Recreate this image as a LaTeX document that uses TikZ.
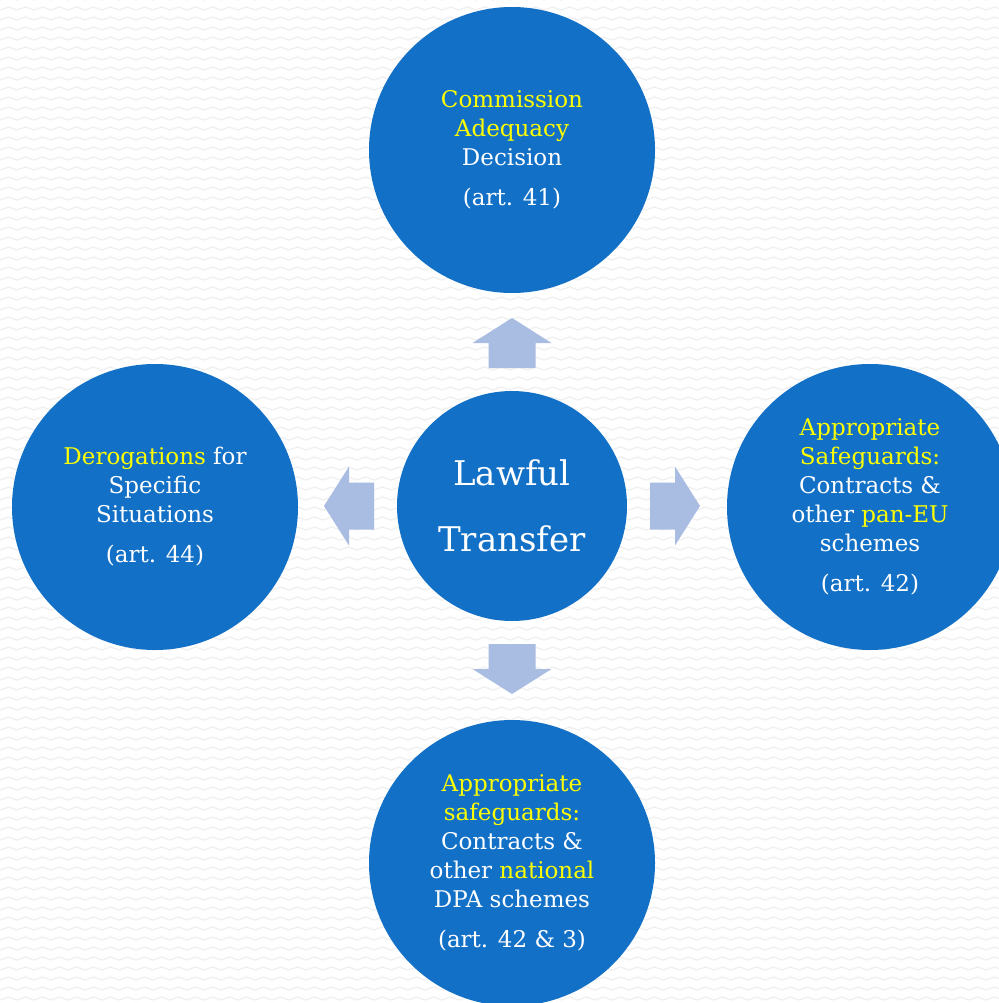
\documentclass[tikz,border=0pt]{standalone}
\usepackage{xcolor}
\usepackage{fontspec}
\setmainfont{DejaVu Serif}
\usetikzlibrary{calc}
\definecolor{bubblebg}{HTML}{1270C6}
\definecolor{arrowfill}{HTML}{A9BCE2}
\definecolor{hilite}{HTML}{FFFF00}
\definecolor{wave}{HTML}{F0F0F0}
\tikzset{
  bubble/.style={circle, fill=bubblebg, text=white, inner sep=0pt, minimum size=286pt, align=center, font=\fontsize{23}{29}\selectfont},
  hub/.style={circle, fill=bubblebg, text=white, inner sep=0pt, minimum size=230pt, align=center, font=\fontsize{34}{66}\selectfont},
  blk/.style={fill=arrowfill, draw=none},
  bgwave/.style={draw=wave, line width=1.3pt, line join=round},
}
\newcommand{\yel}[1]{\textcolor{hilite}{#1}}

\begin{document}
\begin{tikzpicture}[x=1pt,y=1pt]
  \useasboundingbox (0,0) rectangle (998,-1003);
  \fill[white] (0,0) rectangle (998,-1003);
  % faint zigzag background
  \foreach \r in {0,...,100}
    \draw[bgwave] (0,-\r*10) \foreach \k in {1,...,59} { -- ++(8.5,3) -- ++(8.5,-3) };
  \node[hub] (law) at (512,-506) {Lawful\\Transfer};
  \node[bubble] (adequacy) at (512,-150) {\yel{Commission}\\\yel{Adequacy}\\Decision\\[11pt](art. 41)};
  \node[bubble] (derog) at (155,-507) {\yel{Derogations} for\\Specific\\Situations\\[11pt](art. 44)};
  \node[bubble] (paneu) at (870,-507) {\yel{Appropriate}\\\yel{Safeguards:}\\Contracts \&\\other \yel{pan-EU}\\schemes\\[11pt](art. 42)};
  \node[bubble] (national) at (512,-863) {\yel{Appropriate}\\\yel{safeguards:}\\Contracts \&\\other \yel{national}\\DPA schemes\\[11pt](art. 42 \& 3)};
  % block arrows round the hub
  \foreach \a in {0,90,180,270}
    \fill[blk, shift={($(law)+(\a:163)$)}, rotate=\a]
      (-25,-23.5) -- (0,-23.5) -- (0,-39.5) -- (25,0) -- (0,39.5) -- (0,23.5) -- (-25,23.5) -- cycle;
\end{tikzpicture}
\end{document}
